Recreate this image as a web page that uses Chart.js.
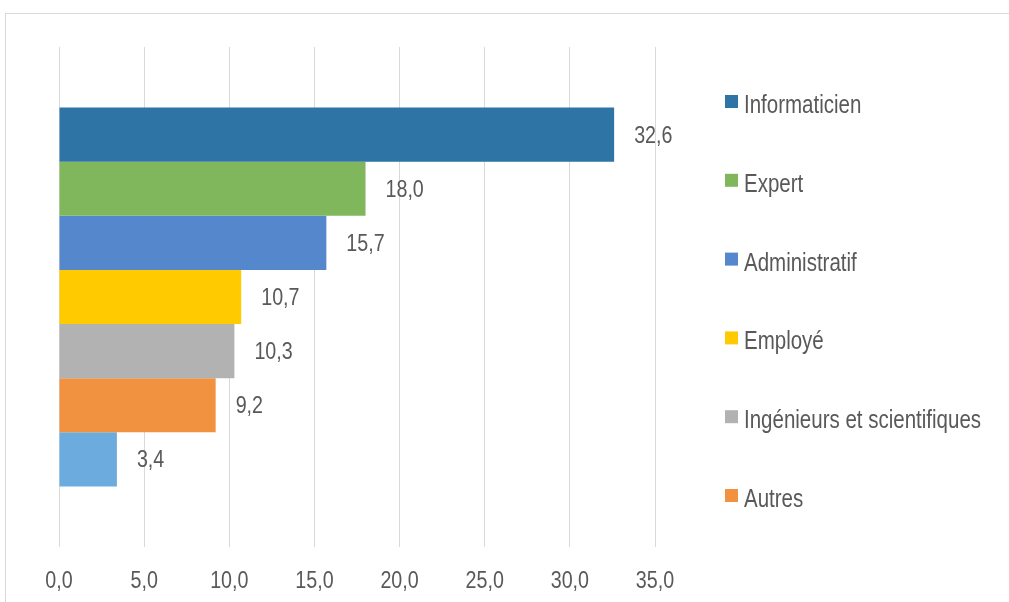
<!DOCTYPE html>
<html lang="fr">
<head>
<meta charset="utf-8">
<title>Répartition par métier</title>
<script src="https://cdn.jsdelivr.net/npm/chart.js@4"></script>
<style>
  html, body { margin: 0; padding: 0; background: #ffffff; overflow: hidden; }
  #frame {
    position: absolute; left: 5px; top: 13px;
    width: 1100px; height: 700px;
    border: 1px solid #d9d9d9;
  }
  #wrap { position: absolute; left: 0; top: 0; width: 1009px; height: 602px; }
</style>
</head>
<body>
<div id="frame"></div>
<div id="wrap"><canvas id="chart" width="1009" height="602"></canvas></div>
<script>
// Métiers (one bar each) and their shares in %
const metiers = ['Informaticien', 'Expert', 'Administratif', 'Employé', 'Ingénieurs et scientifiques', 'Autres', ''];
const parts = [32.6, 18.0, 15.7, 10.7, 10.3, 9.2, 3.4];
const couleurs = ['#2E74A4', '#80B75C', '#5487CB', '#FFCA00', '#B2B2B2', '#F19241', '#6BABDD'];
const graduations = [0, 5, 10, 15, 20, 25, 30, 35];

// Only the entries that fit in the legend column are listed
const entreesLegende = 6;

const FONT = '"Liberation Sans", Arial, sans-serif';
const GRIS = '#595959';
const ETROIT = 0.82; // narrow lettering: horizontal squeeze of the glyphs

const virgule = v => Number(v).toFixed(1).replace('.', ',');

// Draws narrow text: x is the anchor, align 'left' or 'center'
function texteEtroit(ctx, txt, x, y, align) {
  ctx.save();
  ctx.translate(x, y);
  ctx.scale(ETROIT, 1);
  ctx.textAlign = align;
  ctx.textBaseline = 'alphabetic';
  ctx.fillText(txt, 0, 0);
  ctx.restore();
}

// Value written just after the end of each bar
const etiquettes = {
  id: 'etiquettes',
  afterDatasetsDraw(chart) {
    const ctx = chart.ctx;
    ctx.save();
    ctx.font = '24px ' + FONT;
    ctx.fillStyle = GRIS;
    chart.data.datasets.forEach((ds, i) => {
      const bar = chart.getDatasetMeta(i).data[0];
      texteEtroit(ctx, virgule(ds.data[0]), bar.x + 20, bar.y + 8, 'left');
    });
    ctx.restore();
  }
};

// Value labels under the horizontal axis
const graduationsX = {
  id: 'graduationsX',
  afterDraw(chart) {
    const ctx = chart.ctx;
    const sx = chart.scales.x;
    ctx.save();
    ctx.font = '24px ' + FONT;
    ctx.fillStyle = GRIS;
    graduations.forEach(v => {
      texteEtroit(ctx, virgule(v), sx.getPixelForValue(v), chart.chartArea.bottom + 41, 'center');
    });
    ctx.restore();
  }
};

// Legend column on the right, one entry per row
const legende = {
  id: 'legende',
  afterDraw(chart) {
    const ctx = chart.ctx;
    const x0 = 725, base0 = 113, pas = 78.8, carre = 13;
    ctx.save();
    ctx.font = '25px ' + FONT;
    chart.data.datasets.slice(0, entreesLegende).forEach((ds, i) => {
      const base = base0 + i * pas;
      ctx.fillStyle = ds.backgroundColor;
      ctx.fillRect(x0, base - 18, carre, carre);
      ctx.fillStyle = GRIS;
      texteEtroit(ctx, ds.label, x0 + 19, base, 'left');
    });
    ctx.restore();
  }
};

new Chart(document.getElementById('chart'), {
  type: 'bar',
  data: {
    labels: [''],
    datasets: metiers.map((m, i) => ({
      label: m,
      data: [parts[i]],
      backgroundColor: couleurs[i],
      borderWidth: 0,
      barPercentage: 1.0,
      categoryPercentage: 0.758
    }))
  },
  options: {
    indexAxis: 'y',
    responsive: false,
    animation: false,
    events: [],
    layout: { padding: { left: 59, right: 354, top: 47, bottom: 55 } },
    plugins: {
      legend: { display: false },
      tooltip: { enabled: false }
    },
    scales: {
      y: { display: false },
      x: {
        min: graduations[0],
        max: graduations[graduations.length - 1],
        afterBuildTicks(axis) { axis.ticks = graduations.map(v => ({ value: v })); },
        grid: { color: '#d9d9d9', lineWidth: 1, drawTicks: false },
        border: { display: false },
        ticks: { display: false }
      }
    }
  },
  plugins: [etiquettes, graduationsX, legende]
});
</script>
</body>
</html>
